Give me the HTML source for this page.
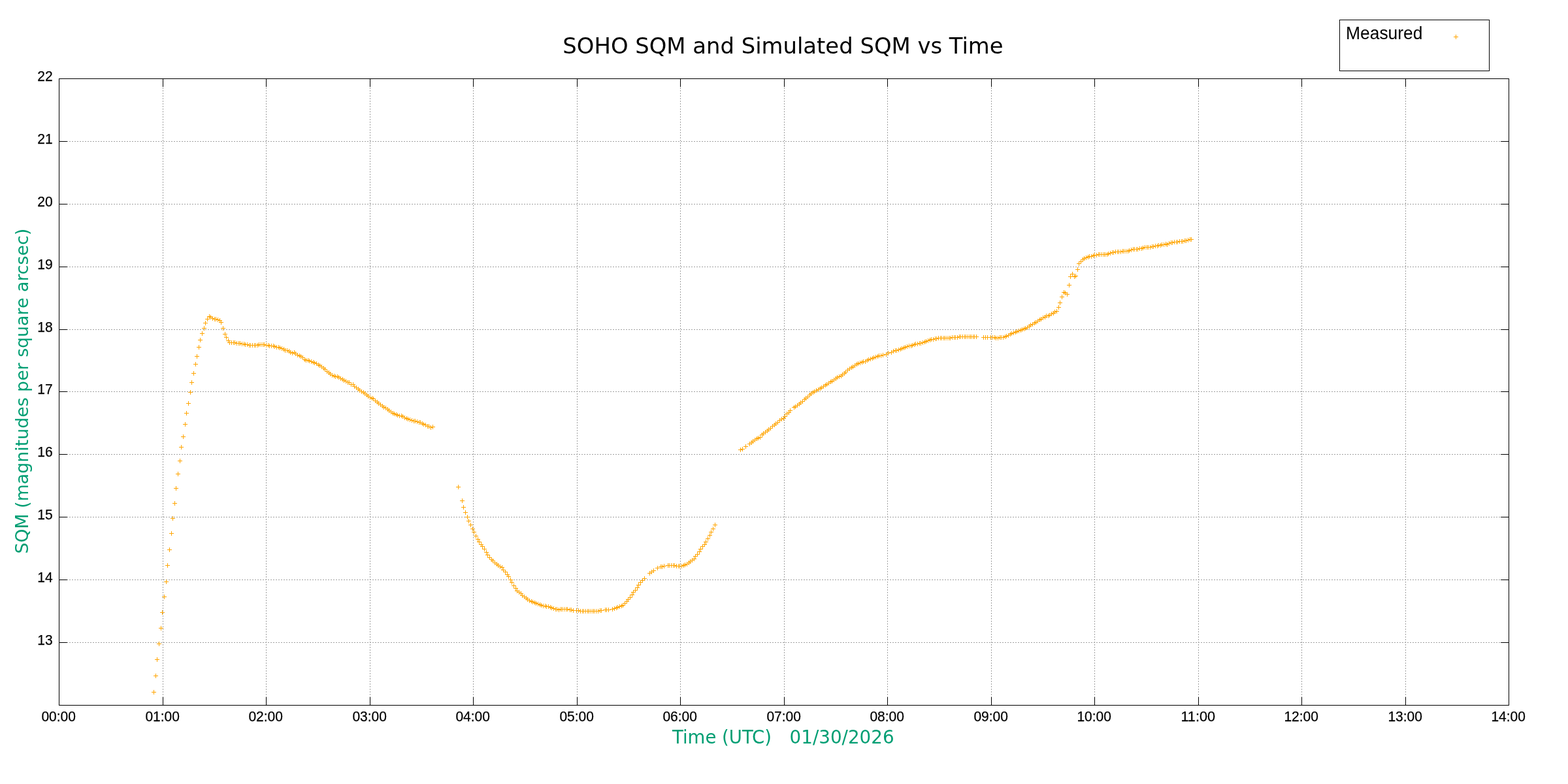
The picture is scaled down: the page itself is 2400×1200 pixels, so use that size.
<!DOCTYPE html>
<html><head><meta charset="utf-8"><style>
html,body{margin:0;padding:0;background:#fff;}
svg{display:block;}
</style></head><body>
<svg width="2400" height="1200" viewBox="0 0 2400 1200">
<rect width="2400" height="1200" fill="#fff"/>
<g fill="none" stroke="#a0a0a0" stroke-width="1" shape-rendering="crispEdges">
<path d="M249.5 1080V120M407.5 1080V120M566.5 1080V120M724.5 1080V120M883.5 1080V120M1041.5 1080V120M1200.5 1080V120M1358.5 1080V120M1517.5 1080V120M1675.5 1080V120M1834.5 1080V120M1992.5 1080V120M2151.5 1080V120" stroke-dasharray="2 2"/>
<path d="M90 983.5H2309M90 887.5H2309M90 791.5H2309M90 695.5H2309M90 599.5H2309M90 504.5H2309M90 408.5H2309M90 312.5H2309M90 216.5H2309" stroke-dasharray="2 2"/>
</g>
<path d="M232 1059.5h7M235.5 1056v7M235 1034.5h7M238.5 1031v7M237 1009.5h7M240.5 1006v7M240 985.5h7M243.5 982v7M243 961.5h7M246.5 958v7M245 937.5h7M248.5 934v7M248 913.5h7M251.5 910v7M251 890.5h7M254.5 887v7M253 865.5h7M256.5 862v7M256 841.5h7M259.5 838v7M259 816.5h7M262.5 813v7M261 793.5h7M264.5 790v7M264 770.5h7M267.5 767v7M266 747.5h7M269.5 744v7M269 725.5h7M272.5 722v7M272 705.5h7M275.5 702v7M274 684.5h7M277.5 681v7M277 668.5h7M280.5 665v7M280 649.5h7M283.5 646v7M282 632.5h7M285.5 629v7M285 617.5h7M288.5 614v7M288 600.5h7M291.5 597v7M290 585.5h7M293.5 582v7M293 571.5h7M296.5 568v7M296 557.5h7M299.5 554v7M298 545.5h7M301.5 542v7M301 531.5h7M304.5 528v7M303 520.5h7M306.5 517v7M306 510.5h7M309.5 507v7M309 502.5h7M312.5 499v7M311 494.5h7M314.5 491v7M314 488.5h7M317.5 485v7M317 484.5h7M320.5 481v7M319 485.5h7M322.5 482v7M322 487.5h7M325.5 484v7M325 488.5h7M328.5 485v7M327 488.5h7M330.5 485v7M330 489.5h7M333.5 486v7M333 490.5h7M336.5 487v7M335 493.5h7M338.5 490v7M338 502.5h7M341.5 499v7M341 511.5h7M344.5 508v7M343 516.5h7M346.5 513v7M346 521.5h7M349.5 518v7M348 524.5h7M351.5 521v7M351 524.5h7M354.5 521v7M354 524.5h7M357.5 521v7M356 524.5h7M359.5 521v7M359 525.5h7M362.5 522v7M362 525.5h7M365.5 522v7M364 525.5h7M367.5 522v7M367 526.5h7M370.5 523v7M370 526.5h7M373.5 523v7M372 527.5h7M375.5 524v7M375 527.5h7M378.5 524v7M378 528.5h7M381.5 525v7M380 528.5h7M383.5 525v7M383 528.5h7M386.5 525v7M386 528.5h7M389.5 525v7M388 528.5h7M391.5 525v7M391 528.5h7M394.5 525v7M393 527.5h7M396.5 524v7M396 527.5h7M399.5 524v7M399 527.5h7M402.5 524v7M401 527.5h7M404.5 524v7M404 528.5h7M407.5 525v7M407 528.5h7M410.5 525v7M409 529.5h7M412.5 526v7M412 529.5h7M415.5 526v7M415 529.5h7M418.5 526v7M417 530.5h7M420.5 527v7M420 531.5h7M423.5 528v7M423 531.5h7M426.5 528v7M425 532.5h7M428.5 529v7M428 533.5h7M431.5 530v7M431 534.5h7M434.5 531v7M433 536.5h7M436.5 533v7M436 536.5h7M439.5 533v7M439 537.5h7M442.5 534v7M441 539.5h7M444.5 536v7M444 540.5h7M447.5 537v7M447 539.5h7M450.5 536v7M449 541.5h7M452.5 538v7M452 543.5h7M455.5 540v7M455 544.5h7M458.5 541v7M457 545.5h7M460.5 542v7M460 547.5h7M463.5 544v7M463 550.5h7M466.5 547v7M465 551.5h7M468.5 548v7M468 551.5h7M471.5 548v7M470 552.5h7M473.5 549v7M473 553.5h7M476.5 550v7M476 554.5h7M479.5 551v7M478 555.5h7M481.5 552v7M481 556.5h7M484.5 553v7M484 558.5h7M487.5 555v7M486 559.5h7M489.5 556v7M489 561.5h7M492.5 558v7M492 563.5h7M495.5 560v7M494 565.5h7M497.5 562v7M497 568.5h7M500.5 565v7M500 570.5h7M503.5 567v7M502 572.5h7M505.5 569v7M505 574.5h7M508.5 571v7M508 575.5h7M511.5 572v7M510 576.5h7M513.5 573v7M513 576.5h7M516.5 573v7M515 577.5h7M518.5 574v7M518 579.5h7M521.5 576v7M521 580.5h7M524.5 577v7M523 582.5h7M526.5 579v7M526 583.5h7M529.5 580v7M529 585.5h7M532.5 582v7M531 585.5h7M534.5 582v7M534 588.5h7M537.5 585v7M537 588.5h7M540.5 585v7M539 591.5h7M542.5 588v7M542 593.5h7M545.5 590v7M545 595.5h7M548.5 592v7M547 597.5h7M550.5 594v7M550 599.5h7M553.5 596v7M553 600.5h7M556.5 597v7M555 602.5h7M558.5 599v7M558 604.5h7M561.5 601v7M560 606.5h7M563.5 603v7M563 608.5h7M566.5 605v7M566 609.5h7M569.5 606v7M568 610.5h7M571.5 607v7M571 613.5h7M574.5 610v7M574 615.5h7M577.5 612v7M576 617.5h7M579.5 614v7M579 619.5h7M582.5 616v7M582 621.5h7M585.5 618v7M584 623.5h7M587.5 620v7M587 624.5h7M590.5 621v7M590 626.5h7M593.5 623v7M592 628.5h7M595.5 625v7M595 630.5h7M598.5 627v7M598 632.5h7M601.5 629v7M600 633.5h7M603.5 630v7M603 634.5h7M606.5 631v7M605 635.5h7M608.5 632v7M608 636.5h7M611.5 633v7M611 636.5h7M614.5 633v7M613 637.5h7M616.5 634v7M616 639.5h7M619.5 636v7M619 640.5h7M622.5 637v7M621 641.5h7M624.5 638v7M624 642.5h7M627.5 639v7M627 643.5h7M630.5 640v7M630 644.5h7M633.5 641v7M632 644.5h7M635.5 641v7M635 645.5h7M638.5 642v7M638 646.5h7M641.5 643v7M640 646.5h7M643.5 643v7M643 648.5h7M646.5 645v7M645 649.5h7M648.5 646v7M648 650.5h7M651.5 647v7M651 652.5h7M654.5 649v7M653 652.5h7M656.5 649v7M656 654.5h7M659.5 651v7M659 653.5h7M662.5 650v7M698 745.5h7M701.5 742v7M704 766.5h7M707.5 763v7M706 776.5h7M709.5 773v7M709 784.5h7M712.5 781v7M712 791.5h7M715.5 788v7M714 797.5h7M717.5 794v7M717 803.5h7M720.5 800v7M720 809.5h7M723.5 806v7M722 814.5h7M725.5 811v7M725 820.5h7M728.5 817v7M728 825.5h7M731.5 822v7M730 829.5h7M733.5 826v7M733 833.5h7M736.5 830v7M735 836.5h7M738.5 833v7M738 840.5h7M741.5 837v7M741 845.5h7M744.5 842v7M743 849.5h7M746.5 846v7M746 853.5h7M749.5 850v7M749 856.5h7M752.5 853v7M751 858.5h7M754.5 855v7M754 861.5h7M757.5 858v7M757 863.5h7M760.5 860v7M759 865.5h7M762.5 862v7M762 867.5h7M765.5 864v7M765 868.5h7M768.5 865v7M767 872.5h7M770.5 869v7M770 875.5h7M773.5 872v7M773 879.5h7M776.5 876v7M775 882.5h7M778.5 879v7M778 887.5h7M781.5 884v7M780 891.5h7M783.5 888v7M783 896.5h7M786.5 893v7M786 900.5h7M789.5 897v7M788 904.5h7M791.5 901v7M791 906.5h7M794.5 903v7M794 908.5h7M797.5 905v7M796 911.5h7M799.5 908v7M799 913.5h7M802.5 910v7M802 915.5h7M805.5 912v7M804 917.5h7M807.5 914v7M807 919.5h7M810.5 916v7M810 920.5h7M813.5 917v7M812 921.5h7M815.5 918v7M815 922.5h7M818.5 919v7M817 923.5h7M820.5 920v7M820 924.5h7M823.5 921v7M823 925.5h7M826.5 922v7M825 926.5h7M828.5 923v7M828 927.5h7M831.5 924v7M831 927.5h7M834.5 924v7M833 928.5h7M836.5 925v7M836 928.5h7M839.5 925v7M839 929.5h7M842.5 926v7M841 930.5h7M844.5 927v7M844 931.5h7M847.5 928v7M847 932.5h7M850.5 929v7M849 932.5h7M852.5 929v7M852 933.5h7M855.5 930v7M855 932.5h7M858.5 929v7M857 932.5h7M860.5 929v7M860 932.5h7M863.5 929v7M863 932.5h7M866.5 929v7M865 932.5h7M868.5 929v7M869 933.5h7M872.5 930v7M871 933.5h7M874.5 930v7M874 934.5h7M877.5 931v7M879 934.5h7M882.5 931v7M882 934.5h7M885.5 931v7M885 935.5h7M888.5 932v7M888 935.5h7M891.5 932v7M890 935.5h7M893.5 932v7M893 935.5h7M896.5 932v7M896 935.5h7M899.5 932v7M898 935.5h7M901.5 932v7M901 935.5h7M904.5 932v7M904 935.5h7M907.5 932v7M906 935.5h7M909.5 932v7M909 935.5h7M912.5 932v7M912 935.5h7M915.5 932v7M915 934.5h7M918.5 931v7M917 934.5h7M920.5 931v7M923 933.5h7M926.5 930v7M925 933.5h7M928.5 930v7M928 933.5h7M931.5 930v7M934 932.5h7M937.5 929v7M937 931.5h7M940.5 928v7M940 930.5h7M943.5 927v7M942 929.5h7M945.5 926v7M945 928.5h7M948.5 925v7M948 927.5h7M951.5 924v7M950 926.5h7M953.5 923v7M953 923.5h7M956.5 920v7M956 920.5h7M959.5 917v7M958 917.5h7M961.5 914v7M961 914.5h7M964.5 911v7M964 910.5h7M967.5 907v7M966 906.5h7M969.5 903v7M969 903.5h7M972.5 900v7M972 899.5h7M975.5 896v7M974 895.5h7M977.5 892v7M977 891.5h7M980.5 888v7M980 888.5h7M983.5 885v7M983 885.5h7M986.5 882v7M991 877.5h7M994.5 874v7M994 875.5h7M997.5 872v7M997 873.5h7M1000.5 870v7M1003 869.5h7M1006.5 866v7M1008 867.5h7M1011.5 864v7M1010 867.5h7M1013.5 864v7M1013 866.5h7M1016.5 863v7M1019 865.5h7M1022.5 862v7M1021 865.5h7M1024.5 862v7M1024 865.5h7M1027.5 862v7M1027 865.5h7M1030.5 862v7M1029 865.5h7M1032.5 862v7M1032 866.5h7M1035.5 863v7M1035 866.5h7M1038.5 863v7M1037 866.5h7M1040.5 863v7M1040 866.5h7M1043.5 863v7M1043 865.5h7M1046.5 862v7M1045 864.5h7M1048.5 861v7M1048 863.5h7M1051.5 860v7M1051 861.5h7M1054.5 858v7M1053 859.5h7M1056.5 856v7M1056 857.5h7M1059.5 854v7M1059 855.5h7M1062.5 852v7M1061 851.5h7M1064.5 848v7M1064 848.5h7M1067.5 845v7M1067 844.5h7M1070.5 841v7M1069 840.5h7M1072.5 837v7M1072 836.5h7M1075.5 833v7M1075 833.5h7M1078.5 830v7M1077 829.5h7M1080.5 826v7M1080 824.5h7M1083.5 821v7M1083 819.5h7M1086.5 816v7M1085 814.5h7M1088.5 811v7M1088 809.5h7M1091.5 806v7M1091 803.5h7M1094.5 800v7M1130 688.5h7M1133.5 685v7M1133 687.5h7M1136.5 684v7M1138 683.5h7M1141.5 680v7M1144 679.5h7M1147.5 676v7M1147 677.5h7M1150.5 674v7M1149 675.5h7M1152.5 672v7M1152 673.5h7M1155.5 670v7M1155 671.5h7M1158.5 668v7M1157 670.5h7M1160.5 667v7M1160 669.5h7M1163.5 666v7M1163 665.5h7M1166.5 662v7M1165 663.5h7M1168.5 660v7M1168 661.5h7M1171.5 658v7M1171 659.5h7M1174.5 656v7M1173 657.5h7M1176.5 654v7M1176 655.5h7M1179.5 652v7M1179 652.5h7M1182.5 649v7M1182 650.5h7M1185.5 647v7M1184 648.5h7M1187.5 645v7M1187 646.5h7M1190.5 643v7M1190 643.5h7M1193.5 640v7M1193 641.5h7M1196.5 638v7M1196 640.5h7M1199.5 637v7M1198 637.5h7M1201.5 634v7M1201 633.5h7M1204.5 630v7M1204 631.5h7M1207.5 628v7M1206 628.5h7M1209.5 625v7M1212 623.5h7M1215.5 620v7M1214 622.5h7M1217.5 619v7M1217 620.5h7M1220.5 617v7M1220 618.5h7M1223.5 615v7M1222 616.5h7M1225.5 613v7M1225 614.5h7M1228.5 611v7M1228 611.5h7M1231.5 608v7M1230 609.5h7M1233.5 606v7M1233 607.5h7M1236.5 604v7M1236 604.5h7M1239.5 601v7M1238 602.5h7M1241.5 599v7M1241 600.5h7M1244.5 597v7M1243 599.5h7M1246.5 596v7M1246 597.5h7M1249.5 594v7M1249 596.5h7M1252.5 593v7M1252 594.5h7M1255.5 591v7M1254 593.5h7M1257.5 590v7M1257 591.5h7M1260.5 588v7M1260 589.5h7M1263.5 586v7M1262 588.5h7M1265.5 585v7M1265 586.5h7M1268.5 583v7M1268 584.5h7M1271.5 581v7M1270 583.5h7M1273.5 580v7M1273 581.5h7M1276.5 578v7M1276 579.5h7M1279.5 576v7M1278 577.5h7M1281.5 574v7M1281 576.5h7M1284.5 573v7M1284 575.5h7M1287.5 572v7M1286 573.5h7M1289.5 570v7M1289 571.5h7M1292.5 568v7M1291 569.5h7M1294.5 566v7M1294 566.5h7M1297.5 563v7M1297 564.5h7M1300.5 561v7M1300 562.5h7M1303.5 559v7M1302 561.5h7M1305.5 558v7M1305 559.5h7M1308.5 556v7M1308 557.5h7M1311.5 554v7M1310 556.5h7M1313.5 553v7M1313 555.5h7M1316.5 552v7M1316 554.5h7M1319.5 551v7M1318 553.5h7M1321.5 550v7M1321 553.5h7M1324.5 550v7M1324 551.5h7M1327.5 548v7M1326 550.5h7M1329.5 547v7M1329 549.5h7M1332.5 546v7M1332 548.5h7M1335.5 545v7M1334 547.5h7M1337.5 544v7M1337 546.5h7M1340.5 543v7M1340 545.5h7M1343.5 542v7M1342 544.5h7M1345.5 541v7M1345 544.5h7M1348.5 541v7M1348 543.5h7M1351.5 540v7M1353 542.5h7M1356.5 539v7M1356 540.5h7M1359.5 537v7M1361 539.5h7M1364.5 536v7M1364 537.5h7M1367.5 534v7M1367 536.5h7M1370.5 533v7M1369 536.5h7M1372.5 533v7M1372 535.5h7M1375.5 532v7M1375 534.5h7M1378.5 531v7M1377 533.5h7M1380.5 530v7M1380 532.5h7M1383.5 529v7M1382 531.5h7M1385.5 528v7M1385 530.5h7M1388.5 527v7M1388 529.5h7M1391.5 526v7M1391 529.5h7M1394.5 526v7M1393 528.5h7M1396.5 525v7M1396 527.5h7M1399.5 524v7M1398 526.5h7M1401.5 523v7M1401 526.5h7M1404.5 523v7M1404 525.5h7M1407.5 522v7M1406 525.5h7M1409.5 522v7M1409 524.5h7M1412.5 521v7M1412 523.5h7M1415.5 520v7M1414 522.5h7M1417.5 519v7M1417 521.5h7M1420.5 518v7M1420 520.5h7M1423.5 517v7M1422 519.5h7M1425.5 516v7M1425 519.5h7M1428.5 516v7M1428 518.5h7M1431.5 515v7M1430 518.5h7M1433.5 515v7M1433 517.5h7M1436.5 514v7M1436 517.5h7M1439.5 514v7M1438 517.5h7M1441.5 514v7M1441 517.5h7M1444.5 514v7M1443 517.5h7M1446.5 514v7M1446 517.5h7M1449.5 514v7M1449 517.5h7M1452.5 514v7M1451 517.5h7M1454.5 514v7M1454 516.5h7M1457.5 513v7M1457 516.5h7M1460.5 513v7M1459 516.5h7M1462.5 513v7M1462 516.5h7M1465.5 513v7M1465 515.5h7M1468.5 512v7M1467 515.5h7M1470.5 512v7M1470 515.5h7M1473.5 512v7M1473 515.5h7M1476.5 512v7M1475 515.5h7M1478.5 512v7M1478 515.5h7M1481.5 512v7M1481 515.5h7M1484.5 512v7M1483 515.5h7M1486.5 512v7M1486 515.5h7M1489.5 512v7M1488 515.5h7M1491.5 512v7M1491 515.5h7M1494.5 512v7M1502 516.5h7M1505.5 513v7M1505 516.5h7M1508.5 513v7M1508 516.5h7M1511.5 513v7M1513 516.5h7M1516.5 513v7M1516 516.5h7M1519.5 513v7M1519 516.5h7M1522.5 513v7M1521 517.5h7M1524.5 514v7M1524 517.5h7M1527.5 514v7M1527 516.5h7M1530.5 513v7M1529 516.5h7M1532.5 513v7M1532 516.5h7M1535.5 513v7M1535 515.5h7M1538.5 512v7M1537 514.5h7M1540.5 511v7M1540 513.5h7M1543.5 510v7M1543 511.5h7M1546.5 508v7M1545 510.5h7M1548.5 507v7M1548 509.5h7M1551.5 506v7M1551 508.5h7M1554.5 505v7M1553 507.5h7M1556.5 504v7M1556 506.5h7M1559.5 503v7M1559 505.5h7M1562.5 502v7M1561 504.5h7M1564.5 501v7M1564 503.5h7M1567.5 500v7M1566 502.5h7M1569.5 499v7M1569 501.5h7M1572.5 498v7M1572 499.5h7M1575.5 496v7M1574 497.5h7M1577.5 494v7M1577 496.5h7M1580.5 493v7M1580 494.5h7M1583.5 491v7M1582 493.5h7M1585.5 490v7M1585 491.5h7M1588.5 488v7M1588 489.5h7M1591.5 486v7M1590 488.5h7M1593.5 485v7M1593 486.5h7M1596.5 483v7M1596 485.5h7M1599.5 482v7M1598 483.5h7M1601.5 480v7M1601 483.5h7M1604.5 480v7M1603 482.5h7M1606.5 479v7M1606 480.5h7M1609.5 477v7M1609 479.5h7M1612.5 476v7M1611 477.5h7M1614.5 474v7M1614 476.5h7M1617.5 473v7M1617 470.5h7M1620.5 467v7M1619 463.5h7M1622.5 460v7M1622 454.5h7M1625.5 451v7M1625 447.5h7M1628.5 444v7M1627 448.5h7M1630.5 445v7M1630 450.5h7M1633.5 447v7M1633 436.5h7M1636.5 433v7M1635 423.5h7M1638.5 420v7M1638 419.5h7M1641.5 416v7M1641 423.5h7M1644.5 420v7M1643 422.5h7M1646.5 419v7M1646 412.5h7M1649.5 409v7M1648 403.5h7M1651.5 400v7M1651 400.5h7M1654.5 397v7M1654 397.5h7M1657.5 394v7M1656 395.5h7M1659.5 392v7M1659 394.5h7M1662.5 391v7M1662 393.5h7M1665.5 390v7M1664 392.5h7M1667.5 389v7M1667 392.5h7M1670.5 389v7M1670 391.5h7M1673.5 388v7M1672 390.5h7M1675.5 387v7M1675 390.5h7M1678.5 387v7M1678 389.5h7M1681.5 386v7M1680 389.5h7M1683.5 386v7M1683 389.5h7M1686.5 386v7M1686 389.5h7M1689.5 386v7M1688 389.5h7M1691.5 386v7M1691 389.5h7M1694.5 386v7M1693 388.5h7M1696.5 385v7M1696 387.5h7M1699.5 384v7M1699 386.5h7M1702.5 383v7M1701 386.5h7M1704.5 383v7M1704 385.5h7M1707.5 382v7M1707 385.5h7M1710.5 382v7M1709 385.5h7M1712.5 382v7M1712 385.5h7M1715.5 382v7M1715 384.5h7M1718.5 381v7M1717 384.5h7M1720.5 381v7M1720 384.5h7M1723.5 381v7M1723 384.5h7M1726.5 381v7M1725 383.5h7M1728.5 380v7M1728 382.5h7M1731.5 379v7M1731 381.5h7M1734.5 378v7M1733 381.5h7M1736.5 378v7M1736 381.5h7M1739.5 378v7M1738 381.5h7M1741.5 378v7M1741 380.5h7M1744.5 377v7M1744 380.5h7M1747.5 377v7M1746 379.5h7M1749.5 376v7M1749 378.5h7M1752.5 375v7M1752 378.5h7M1755.5 375v7M1754 378.5h7M1757.5 375v7M1757 378.5h7M1760.5 375v7M1760 377.5h7M1763.5 374v7M1762 377.5h7M1765.5 374v7M1765 376.5h7M1768.5 373v7M1768 376.5h7M1771.5 373v7M1770 375.5h7M1773.5 372v7M1773 375.5h7M1776.5 372v7M1775 374.5h7M1778.5 371v7M1778 374.5h7M1781.5 371v7M1781 373.5h7M1784.5 370v7M1783 374.5h7M1786.5 371v7M1786 372.5h7M1789.5 369v7M1789 371.5h7M1792.5 368v7M1791 371.5h7M1794.5 368v7M1794 370.5h7M1797.5 367v7M1797 370.5h7M1800.5 367v7M1799 370.5h7M1802.5 367v7M1802 369.5h7M1805.5 366v7M1805 369.5h7M1808.5 366v7M1807 369.5h7M1810.5 366v7M1810 368.5h7M1813.5 365v7M1812 368.5h7M1815.5 365v7M1815 367.5h7M1818.5 364v7M1818 366.5h7M1821.5 363v7M1820 366.5h7M1823.5 363v7" fill="none" stroke="#ffa500" stroke-width="1" shape-rendering="crispEdges"/>
<g fill="none" stroke="#000" stroke-width="1" shape-rendering="crispEdges">
<path d="M90.5 1080V1067M90.5 120V133M249.5 1080V1067M249.5 120V133M407.5 1080V1067M407.5 120V133M566.5 1080V1067M566.5 120V133M724.5 1080V1067M724.5 120V133M883.5 1080V1067M883.5 120V133M1041.5 1080V1067M1041.5 120V133M1200.5 1080V1067M1200.5 120V133M1358.5 1080V1067M1358.5 120V133M1517.5 1080V1067M1517.5 120V133M1675.5 1080V1067M1675.5 120V133M1834.5 1080V1067M1834.5 120V133M1992.5 1080V1067M1992.5 120V133M2151.5 1080V1067M2151.5 120V133M2309.5 1080V1067M2309.5 120V133M90 1079.5H103M2310 1079.5H2297M90 983.5H103M2310 983.5H2297M90 887.5H103M2310 887.5H2297M90 791.5H103M2310 791.5H2297M90 695.5H103M2310 695.5H2297M90 599.5H103M2310 599.5H2297M90 504.5H103M2310 504.5H2297M90 408.5H103M2310 408.5H2297M90 312.5H103M2310 312.5H2297M90 216.5H103M2310 216.5H2297M90 120.5H103M2310 120.5H2297"/>
<rect x="90.5" y="120.5" width="2219" height="959"/>
<rect x="2050.5" y="30.5" width="229" height="78"/>
</g>
<g font-family="'Liberation Sans', Arial, sans-serif" font-size="22.2" fill="#000" stroke="#000" stroke-width="0.25">
<text x="89.7" y="1104" text-anchor="middle" textLength="52.5" lengthAdjust="spacingAndGlyphs">00:00</text><text x="248.7" y="1104" text-anchor="middle" textLength="52.5" lengthAdjust="spacingAndGlyphs">01:00</text><text x="406.7" y="1104" text-anchor="middle" textLength="52.5" lengthAdjust="spacingAndGlyphs">02:00</text><text x="565.7" y="1104" text-anchor="middle" textLength="52.5" lengthAdjust="spacingAndGlyphs">03:00</text><text x="723.7" y="1104" text-anchor="middle" textLength="52.5" lengthAdjust="spacingAndGlyphs">04:00</text><text x="882.7" y="1104" text-anchor="middle" textLength="52.5" lengthAdjust="spacingAndGlyphs">05:00</text><text x="1040.7" y="1104" text-anchor="middle" textLength="52.5" lengthAdjust="spacingAndGlyphs">06:00</text><text x="1199.7" y="1104" text-anchor="middle" textLength="52.5" lengthAdjust="spacingAndGlyphs">07:00</text><text x="1357.7" y="1104" text-anchor="middle" textLength="52.5" lengthAdjust="spacingAndGlyphs">08:00</text><text x="1516.7" y="1104" text-anchor="middle" textLength="52.5" lengthAdjust="spacingAndGlyphs">09:00</text><text x="1674.7" y="1104" text-anchor="middle" textLength="52.5" lengthAdjust="spacingAndGlyphs">10:00</text><text x="1833.7" y="1104" text-anchor="middle" textLength="52.5" lengthAdjust="spacingAndGlyphs">11:00</text><text x="1991.7" y="1104" text-anchor="middle" textLength="52.5" lengthAdjust="spacingAndGlyphs">12:00</text><text x="2150.7" y="1104" text-anchor="middle" textLength="52.5" lengthAdjust="spacingAndGlyphs">13:00</text><text x="2308.7" y="1104" text-anchor="middle" textLength="52.5" lengthAdjust="spacingAndGlyphs">14:00</text>
<text x="80.6" y="987" text-anchor="end" textLength="23.35" lengthAdjust="spacingAndGlyphs">13</text><text x="80.6" y="891" text-anchor="end" textLength="23.35" lengthAdjust="spacingAndGlyphs">14</text><text x="80.6" y="795" text-anchor="end" textLength="23.35" lengthAdjust="spacingAndGlyphs">15</text><text x="80.6" y="699" text-anchor="end" textLength="23.35" lengthAdjust="spacingAndGlyphs">16</text><text x="80.6" y="603" text-anchor="end" textLength="23.35" lengthAdjust="spacingAndGlyphs">17</text><text x="80.6" y="508" text-anchor="end" textLength="23.35" lengthAdjust="spacingAndGlyphs">18</text><text x="80.6" y="412" text-anchor="end" textLength="23.35" lengthAdjust="spacingAndGlyphs">19</text><text x="80.6" y="316" text-anchor="end" textLength="23.35" lengthAdjust="spacingAndGlyphs">20</text><text x="80.6" y="220" text-anchor="end" textLength="23.35" lengthAdjust="spacingAndGlyphs">21</text><text x="80.6" y="124" text-anchor="end" textLength="23.35" lengthAdjust="spacingAndGlyphs">22</text>
<text x="2060" y="60" font-size="28" textLength="117.5" lengthAdjust="spacingAndGlyphs" stroke="none">Measured</text>
</g>
<path d="M2225 56.5h7M2228.5 53v7" stroke="#ffa500" stroke-width="1" shape-rendering="crispEdges"/>
<g font-family="'DejaVu Sans', sans-serif" fill="#000">
<text x="1198.5" y="82" font-size="33.85" text-anchor="middle">SOHO SQM and Simulated SQM vs Time</text>
<text x="1029" y="1138" font-size="27.5" fill="#009e73">Time (UTC)</text>
<text x="1208.6" y="1138" font-size="27.75" fill="#009e73">01/30/2026</text>
<text transform="translate(42.8,847.5) rotate(-90)" font-size="26.8" fill="#009e73">SQM (magnitudes per square arcsec)</text>
</g>
</svg>
</body></html>
